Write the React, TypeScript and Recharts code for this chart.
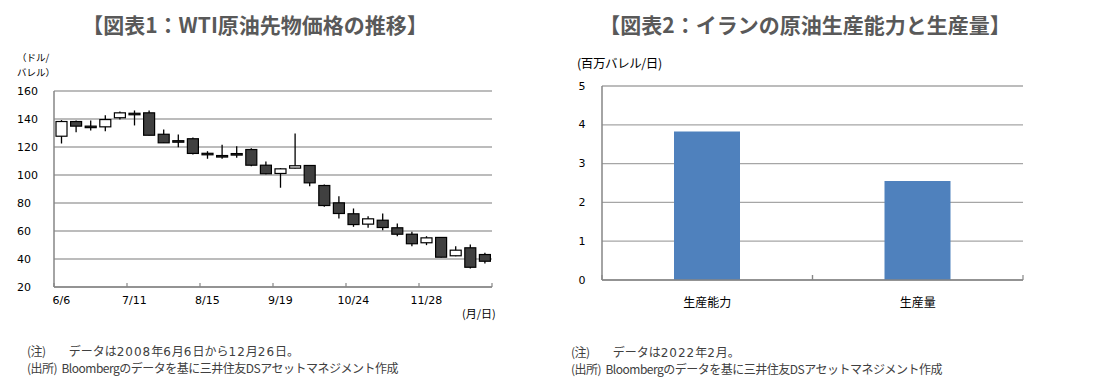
import React from 'react';
import { ComposedChart, BarChart, Bar, XAxis, YAxis, CartesianGrid } from 'recharts';

const dates = ['6/6','6/13','6/20','6/27','7/4','7/11','7/18','7/25','8/1','8/8','8/15','8/22','8/29','9/5','9/12','9/19','9/26','10/3','10/10','10/17','10/24','10/31','11/7','11/14','11/21','11/28','12/5','12/12','12/19','12/26'];
const opens = [127.7,138.2,134.9,134.4,140.9,144.1,144.4,129.1,124.5,125.9,115.5,113.9,115.3,118.2,107.0,101.1,104.9,106.8,92.5,80.1,72.3,64.9,67.7,62.3,57.7,51.6,55.4,42.3,48.0,43.2];
const closes = [138.2,134.9,134.2,139.6,144.4,143.8,128.4,123.0,124.0,115.4,115.1,113.6,115.0,107.0,100.9,104.4,106.6,94.4,78.2,72.5,64.6,68.7,62.5,57.7,50.9,55.1,41.3,46.3,34.1,38.4];
const highs = [139.2,139.0,139.0,142.7,145.4,146.1,146.1,132.5,128.9,126.8,117.0,121.6,120.6,119.1,109.6,105.0,129.6,107.0,93.2,84.9,76.1,70.6,72.5,65.4,59.4,56.3,55.6,49.1,50.4,44.4];
const lows = [122.5,130.5,131.8,131.3,139.6,135.4,128.2,122.8,119.9,114.6,111.6,111.6,112.3,106.3,100.5,90.9,104.6,92.0,77.3,68.9,63.0,62.3,60.6,56.3,49.1,49.9,41.0,42.0,33.2,36.8];
const priceTicks = [20,40,60,80,100,120,140,160];

const iranCategories = ['生産能力','生産量'];
const iranValues = [3.83,2.55];
const iranTicks = [0,1,2,3,4,5];

const candleData = dates.map((d, i) => ({ date: d, open: opens[i], close: closes[i], high: highs[i], low: lows[i] }));
const iranData = iranCategories.map((c, i) => ({ name: c, value: iranValues[i] }));

const CJK = '"Noto Sans CJK JP", sans-serif';
const NUM = '"DejaVu Sans", sans-serif';
const GRID = '#a6a6a6';
const AXIS = '#868686';
const XAXIS_H = 30;

// left chart layout
const L_W = 550, L_H = 381;
const L_M = { top: 91, right: 58, bottom: 94 - XAXIS_H, left: 14 };
const L_YW = 40;
const L_PLOT_W = L_W - L_M.left - L_M.right - L_YW;
const L_BAND = L_PLOT_W / dates.length;

// right chart layout
const R_W = 549, R_H = 381;
const R_M = { top: 86, right: 76, bottom: 101 - XAXIS_H, left: 22 };
const R_YW = 30;
const R_PLOT_W = R_W - R_M.left - R_M.right - R_YW;
const R_BAND = R_PLOT_W / iranCategories.length;

const Candle = (props: any) => {
  const { x, y, width, height, payload } = props;
  const { open, close, high, low } = payload;
  const top = Math.min(y, y + height);
  const bottom = Math.max(y, y + height);
  const r = high === low ? 0 : (bottom - top) / (high - low);
  const py = (v: number) => top + (high - v) * r;
  const cx = x + width / 2;
  const up = close >= open;
  const bTop = py(Math.max(open, close));
  const bBot = py(Math.min(open, close));
  const bh = Math.max(bBot - bTop, 1.5);
  return (
    <g>
      <line x1={cx} x2={cx} y1={top} y2={bottom} stroke="#000" strokeWidth={1.3} />
      <rect x={x} y={bTop} width={width} height={bh} fill={up ? '#ffffff' : '#404040'} stroke="#000" strokeWidth={1.2} />
    </g>
  );
};

const LeftYTick = (props: any) => {
  const { y, payload } = props;
  return (
    <text x={17} y={y} dominantBaseline="central" textAnchor="start" fontFamily={NUM} fontSize={11} fill="#000">{payload.value}</text>
  );
};

const LeftXTick = (props: any) => {
  const { x, y, payload } = props;
  const i = dates.indexOf(payload.value);
  const bx = x - L_BAND / 2;
  const showEnd = i + 5 >= dates.length;
  return (
    <g>
      <line x1={bx} x2={bx} y1={y - 4} y2={y} stroke={AXIS} strokeWidth={1.2} />
      {showEnd && <line x1={bx + 5 * L_BAND} x2={bx + 5 * L_BAND} y1={y - 4} y2={y} stroke={AXIS} strokeWidth={1.2} />}
      <text x={x} y={y + 13} dominantBaseline="central" textAnchor="middle" fontFamily={NUM} fontSize={11} fill="#000">{payload.value}</text>
    </g>
  );
};

const RightYTick = (props: any) => {
  const { x, y, payload } = props;
  return (
    <text x={x - 18} y={y} dominantBaseline="central" textAnchor="middle" fontFamily={NUM} fontSize={11} fill="#000">{payload.value}</text>
  );
};

const RightXTick = (props: any) => {
  const { x, y, payload } = props;
  return (
    <g>
      <line x1={x - R_BAND / 2} x2={x - R_BAND / 2} y1={y - 5} y2={y} stroke={AXIS} strokeWidth={1.2} />
      <line x1={x + R_BAND / 2} x2={x + R_BAND / 2} y1={y - 5} y2={y} stroke={AXIS} strokeWidth={1.2} />
      <text x={x} y={y + 21} dominantBaseline="central" textAnchor="middle" fontFamily={CJK} fontSize={12} fill="#000">{payload.value}</text>
    </g>
  );
};

const abs = (left: number, top: number, extra: React.CSSProperties = {}): React.CSSProperties => ({
  position: 'absolute', left, top, whiteSpace: 'nowrap', fontFamily: CJK, ...extra,
});

const dig = (s: string) => <span style={{ fontFamily: NUM, fontSize: 12, letterSpacing: '1px' }}>{s}</span>;

export default function App() {
  return (
    <div style={{ position: 'absolute', left: 0, top: 0, width: 1099, height: 381, background: '#fff', overflow: 'hidden' }}>
      {/* titles */}
      <div style={abs(0, 11, { width: 510, textAlign: 'center', fontSize: 21, fontWeight: 700, color: '#595959', lineHeight: '26px' })}>【図表1：WTI原油先物価格の推移】</div>
      <div style={abs(570, 11, { width: 470, textAlign: 'center', fontSize: 21, fontWeight: 700, color: '#595959', lineHeight: '26px' })}>【図表2：イランの原油生産能力と生産量】</div>

      {/* left unit */}
      <div style={abs(17, 50, { fontSize: 9.5, color: '#000', lineHeight: '15px' })}>（ドル/<br />バレル）</div>
      <div style={abs(462, 305, { fontSize: 11, color: '#000', lineHeight: '16px' })}>(月/日)</div>

      {/* right unit */}
      <div style={abs(577, 55, { fontSize: 12.5, color: '#000', lineHeight: '16px', letterSpacing: '-0.4px' })}>(百万バレル/日)</div>

      {/* left chart */}
      <div style={{ position: 'absolute', left: 0, top: 0 }}>
        <ComposedChart width={L_W} height={L_H} data={candleData} margin={L_M}>
          <CartesianGrid vertical={false} stroke={GRID} strokeWidth={1.3} />
          <YAxis domain={[20, 160]} ticks={priceTicks} width={L_YW} tickLine={false} tickSize={0}
            axisLine={{ stroke: AXIS, strokeWidth: 1.5 }} tick={<LeftYTick />} interval={0} />
          <XAxis dataKey="date" interval={4} height={XAXIS_H} tickLine={false} tickSize={0} tickMargin={0}
            axisLine={{ stroke: AXIS, strokeWidth: 1.5 }} tick={<LeftXTick />} />
          <Bar dataKey={(d: any) => [d.low, d.high]} shape={<Candle />} isAnimationActive={false} barSize={11} />
        </ComposedChart>
      </div>

      {/* right chart */}
      <div style={{ position: 'absolute', left: 550, top: 0 }}>
        <BarChart width={R_W} height={R_H} data={iranData} margin={R_M}>
          <CartesianGrid vertical={false} stroke={GRID} strokeWidth={1.3} />
          <YAxis domain={[0, 5]} ticks={iranTicks} width={R_YW} tickLine={false} tickSize={0}
            axisLine={{ stroke: AXIS, strokeWidth: 1.5 }} tick={<RightYTick />} interval={0} />
          <XAxis dataKey="name" height={XAXIS_H} tickLine={false} tickSize={0} tickMargin={0}
            axisLine={{ stroke: AXIS, strokeWidth: 1.5 }} tick={<RightXTick />} />
          <Bar dataKey="value" fill="#4f81bd" barSize={66} isAnimationActive={false} />
        </BarChart>
      </div>

      {/* footnotes */}
      <div style={abs(27, 343, { fontSize: 12, color: '#404040', lineHeight: '15px', letterSpacing: '-0.5px' })}>
        (注)　　<span style={{ letterSpacing: '0px' }}>データは{dig('2008')}年{dig('6')}月{dig('6')}日から{dig('12')}月{dig('26')}日。</span><br />(出所)&nbsp;&nbsp;Bloombergのデータを基に三井住友DSアセットマネジメント作成
      </div>
      <div style={abs(571, 344, { fontSize: 12, color: '#404040', lineHeight: '15px', letterSpacing: '-0.5px' })}>
        (注)　　<span style={{ letterSpacing: '0px' }}>データは{dig('2022')}年{dig('2')}月。</span><br />(出所)&nbsp;&nbsp;Bloombergのデータを基に三井住友DSアセットマネジメント作成
      </div>
    </div>
  );
}
